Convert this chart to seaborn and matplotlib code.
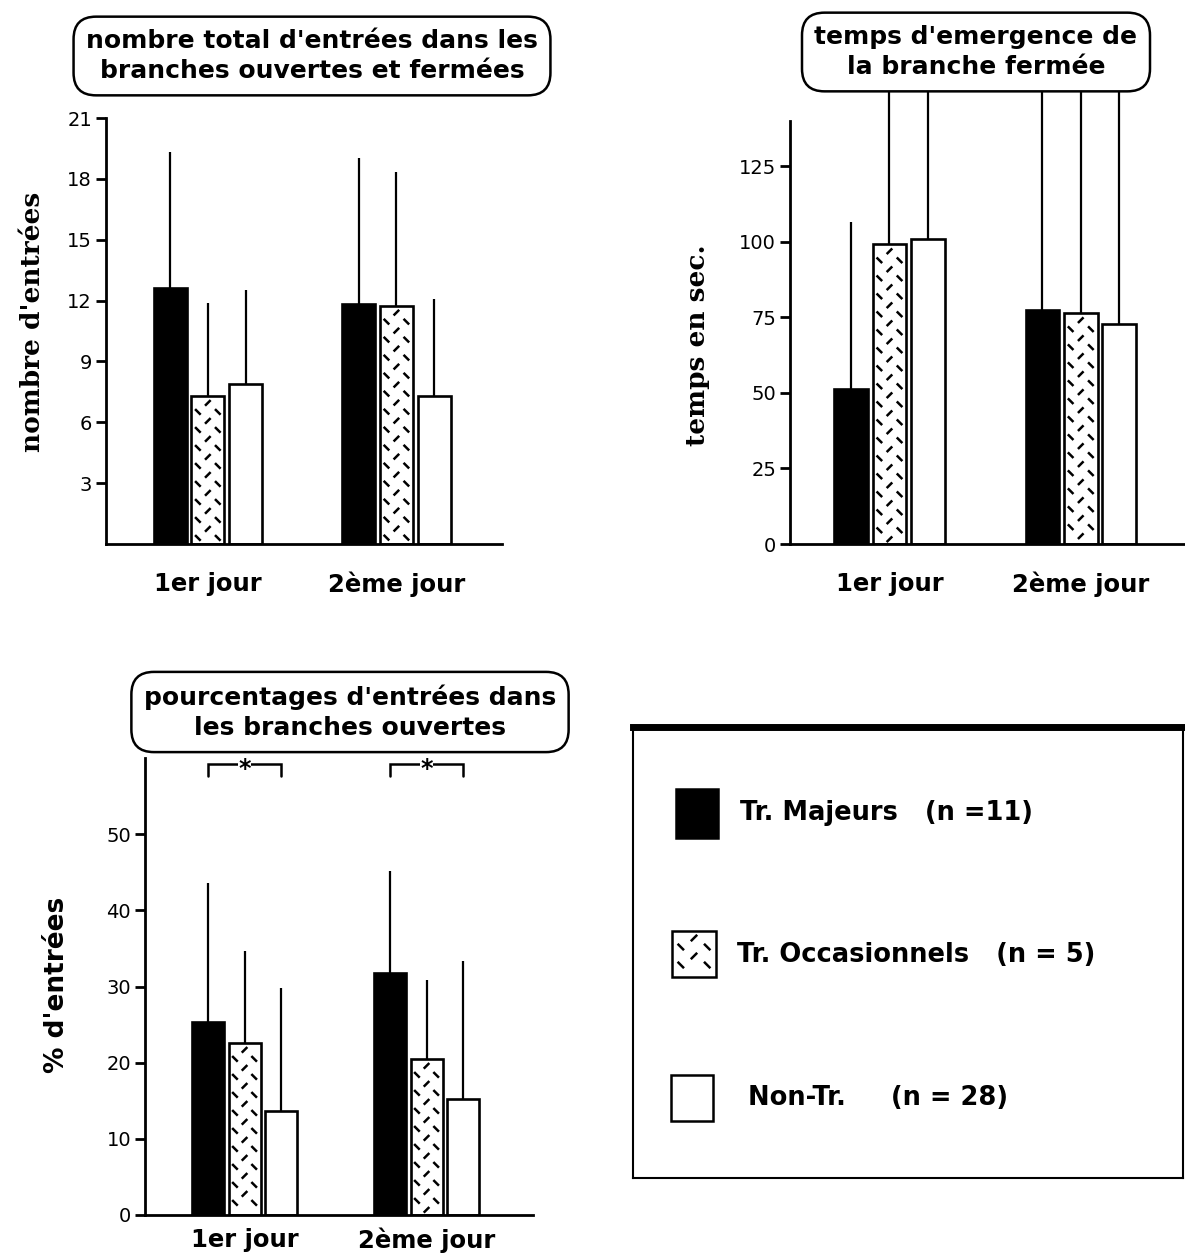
import numpy as np
import pandas as pd
import matplotlib
matplotlib.use("Agg")
import matplotlib.pyplot as plt
import seaborn as sns
from matplotlib.collections import LineCollection
from matplotlib.patches import Rectangle

# donnees (lignes = groupes, colonnes = jours)
jours = ["1er jour", "2ème jour"]
groupes = ["Tr. Majeurs", "Tr. Occasionnels", "Non-Tr."]
couleurs = ["black", "white", "white"]
legende = ["Tr. Majeurs   (n =11)", "Tr. Occasionnels   (n = 5)", "Non-Tr.     (n = 28)"]

entrees_moy = [[12.6, 11.85], [7.3, 11.75], [7.9, 7.3]]
entrees_sd = [[6.7, 7.2], [4.6, 6.6], [4.6, 4.8]]

temps_moy = [[51.4, 77.4], [99.2, 76.4], [101.1, 72.9]]
temps_sd = [[55.3, 80.0], [62.0, 80.0], [60.0, 82.0]]

pourc_moy = [[25.3, 31.75], [22.6, 20.5], [13.7, 15.2]]
pourc_sd = [[18.3, 13.45], [12.0, 10.3], [16.1, 18.1]]

W, H = 1185, 1257
sns.set_theme(style="white")
plt.rcParams["font.family"] = ["DejaVu Sans"]
plt.rcParams.update({"text.color": "black", "axes.labelcolor": "black",
                     "xtick.color": "black", "ytick.color": "black"})

fig = plt.figure(figsize=(W / 100, H / 100), dpi=100)


def rect(l, t, r, b):
    return [l / W, 1 - b / H, (r - l) / W, (b - t) / H]


def texture(ax, patch, pas=9.0, demi=2.8):
    (x0, y0), (x1, y1) = patch.get_window_extent().get_points()
    segs = []
    y = y1 - 7
    i = 0
    while y > y0 + 4:
        if i % 2 == 0:
            centres, sens = [0.5], 1
        else:
            centres, sens = [0.2, 0.8], -1
        for c in centres:
            cx = x0 + c * (x1 - x0)
            segs.append([(cx - demi, y - sens * demi), (cx + demi, y + sens * demi)])
        y -= pas
        i += 1
    inv = ax.transData.inverted()
    segs = [inv.transform(s) for s in segs]
    ax.add_collection(LineCollection(segs, colors="black", linewidths=1.8,
                                     zorder=patch.get_zorder() + 0.1))


def panneau(ax, moy, sd, ymax, yticks, xlim, ylabel, lab_xy, serif=True, xpad=20):
    df = pd.DataFrame([{"jour": j, "groupe": g, "val": moy[gi][ji]}
                       for gi, g in enumerate(groupes) for ji, j in enumerate(jours)])
    sns.barplot(data=df, x="jour", y="val", hue="groupe", order=jours, hue_order=groupes,
                palette=dict(zip(groupes, couleurs)), saturation=1, width=0.6, gap=0.12,
                edgecolor="black", linewidth=1.9, errorbar=None, legend=False, ax=ax)
    ax.set_xlim(*xlim)
    ax.set_ylim(0, ymax)
    for gi, cont in enumerate(ax.containers):
        bars = sorted(cont, key=lambda b: b.get_x())
        for ji, bar in enumerate(bars):
            cx = bar.get_x() + bar.get_width() / 2
            top = bar.get_height()
            ax.plot([cx, cx], [top, top + sd[gi][ji]], color="black", lw=1.6,
                    clip_on=False, zorder=1, solid_capstyle="butt")
            if gi == 1:
                texture(ax, bar)
    sns.despine(ax=ax)
    for s in ["left", "bottom"]:
        ax.spines[s].set_linewidth(2)
        ax.spines[s].set_color("black")
    ax.set_yticks(yticks)
    ax.tick_params(axis="y", direction="out", length=7, width=2, labelsize=14, pad=3,
                   left=True)
    ax.tick_params(axis="x", length=0, pad=xpad, labelsize=17.5)
    for t in ax.get_xticklabels():
        t.set_fontweight("bold")
    ax.set_xlabel("")
    ax.set_ylabel(ylabel, fontsize=19, fontweight="bold",
                  family="DejaVu Serif" if serif else "DejaVu Sans")
    ax.yaxis.label.set_verticalalignment("center")
    ax.yaxis.set_label_coords(*lab_xy)
    ax.set_facecolor("white")


# panneau 1
r1 = (106, 118, 502, 544)
ax1 = fig.add_axes(rect(*r1))
panneau(ax1, entrees_moy, entrees_sd, 21, [3, 6, 9, 12, 15, 18, 21], (-0.54, 1.56),
        "nombre d'entrées", ((33 - r1[0]) / (r1[2] - r1[0]), (r1[3] - 322) / (r1[3] - r1[1])))

# panneau 2
r2 = (790, 121, 1185, 544)
ax2 = fig.add_axes(rect(*r2))
panneau(ax2, temps_moy, temps_sd, 140, [0, 25, 50, 75, 100, 125], (-0.52, 1.545),
        "temps en sec.", ((697 - r2[0]) / (r2[2] - r2[0]), (r2[3] - 345) / (r2[3] - r2[1])))

# panneau 3
r3 = (145, 758, 533, 1215)
ax3 = fig.add_axes(rect(*r3))
panneau(ax3, pourc_moy, pourc_sd, 60, [0, 10, 20, 30, 40, 50], (-0.547, 1.585),
        "% d'entrées", ((57 - r3[0]) / (r3[2] - r3[0]), (r3[3] - 985) / (r3[3] - r3[1])),
        serif=False, xpad=9)

# crochets de signification
conts = [sorted(c, key=lambda b: b.get_x()) for c in ax3.containers]
for ji in range(len(jours)):
    xa = conts[0][ji].get_x() + conts[0][ji].get_width() / 2
    xb = conts[2][ji].get_x() + conts[2][ji].get_width() / 2
    ax3.plot([xa, xa, xb, xb], [57.6, 59.2, 59.2, 57.6], color="black", lw=1.8,
             clip_on=False, solid_joinstyle="miter")
    ax3.text((xa + xb) / 2, 58.6, "*", ha="center", va="center", fontsize=17,
             fontweight="bold", bbox=dict(fc="white", ec="none", pad=0.3))

# titres encadres
titres = [("nombre total d'entrées dans les\nbranches ouvertes et fermées", 312, 56),
          ("temps d'emergence de\nla branche fermée", 976, 52),
          ("pourcentages d'entrées dans\nles branches ouvertes", 350, 712)]
for txt, cx, cy in titres:
    fig.text(cx / W, 1 - cy / H, txt, ha="center", va="center", fontsize=18,
             fontweight="bold", linespacing=1.3, zorder=5,
             bbox=dict(boxstyle="round,pad=0.5,rounding_size=0.9", fc="white",
                       ec="black", lw=1.8))

# cadre de legende
lg = fig.add_axes(rect(633, 727, 1183, 1178))
lg.set_xlim(633, 1183)
lg.set_ylim(1178, 727)
lg.set_xticks([])
lg.set_yticks([])
for s in lg.spines.values():
    s.set_visible(True)
    s.set_color("black")
    s.set_linewidth(1.5)
lg.spines["top"].set_linewidth(5)
cles = [(676, 789, 42, 49), (672, 931, 44, 46), (671, 1075, 42, 46)]
pos_txt = [(740, 813), (737, 955), (748, 1098)]
for gi in range(len(groupes)):
    x, y, w, h = cles[gi]
    carre = Rectangle((x, y), w, h, fc=couleurs[gi], ec="black", lw=1.8)
    lg.add_patch(carre)
    if gi == 1:
        texture(lg, carre, pas=9, demi=3.2)
    lg.text(pos_txt[gi][0], pos_txt[gi][1], legende[gi], va="center", ha="left",
            fontsize=18.5, fontweight="bold")

fig.savefig("out.png", dpi=100, facecolor="white")
